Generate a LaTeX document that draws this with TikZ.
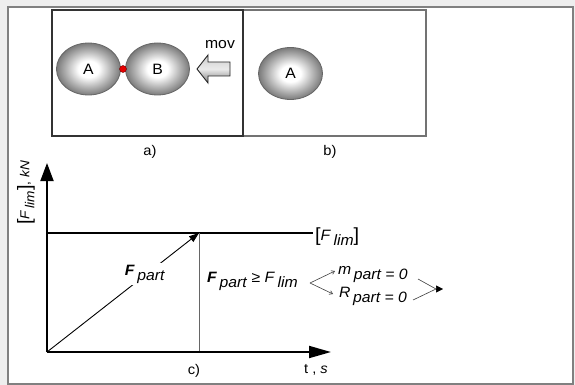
\documentclass[tikz,border=0pt]{standalone}
\usepackage{fontspec}
\setmainfont{Liberation Sans}[FakeStretch=1.05]
\usetikzlibrary{arrows.meta,shapes.geometric,shadings}
\pgfdeclareradialshading{ball}{\pgfpoint{0bp}{0bp}}{color(0bp)=(white); color(8bp)=(white); color(17bp)=(black!28); color(25bp)=(black!52); color(50bp)=(black!52)}
\definecolor{bgc}{HTML}{EEEEEE}
\newcommand{\sbx}[1]{\,\raisebox{-5pt}{\textit{#1}}}
\newcommand{\bigbr}[1]{{\fontsize{19}{19}\selectfont\raisebox{-1.5pt}{#1}}}
\begin{document}
\begin{tikzpicture}[x=1pt,y=-1pt,font=\fontsize{15}{17}\selectfont,
  ballnode/.style={ellipse, draw=black!60, line width=0.8pt, shading=ball, minimum width=64pt, minimum height=52pt, inner sep=0pt},
  lbl/.style={font=\fontsize{14}{16}\selectfont, inner sep=0pt},
  axisline/.style={line width=1.8pt, black},
  thinln/.style={line width=0.6pt, black!75},
  txt/.style={inner sep=0pt}]
\useasboundingbox (0,0) rectangle (575,385);
\fill[bgc] (0,0) rectangle (575,385);
\draw[line width=2.5pt, black!50, fill=white] (8,7) rectangle (573,384);
% panels
\draw[line width=1.2pt, black!55] (243,10) rectangle (426,136);
\draw[line width=1.5pt, black!80] (52,10) rectangle (243,136);
% balls
\node[ballnode] (A) at (88.5,69) {A};
\node[ballnode] (B) at (157.5,69) {B};
\node[ballnode] (A2) at (290.5,73.5) {A};
\node[circle, fill=red!90!black, draw=red!40!black, line width=0.4pt, minimum size=7pt, inner sep=0pt] (dot) at (123,69) {};
% mov arrow
\draw[line width=0.9pt, black!85, top color=black!20, bottom color=black!50, middle color=black!8]
  (230,62) -- (208,62) -- (208,55) -- (197,69) -- (208,83) -- (208,76) -- (230,76) -- cycle;
\node[txt] (mov) at (220,45) {mov};
\node[lbl] (la) at (150,152) {a)};
\node[lbl] (lb) at (330,152) {b)};
% graph
\coordinate (O) at (47,352);
\coordinate (Yt) at (47,163);
\coordinate (Xt) at (331,352);
\coordinate (H0) at (47,233);
\coordinate (H1) at (313,233);
\coordinate (P) at (199,233);
\coordinate (Pb) at (199,352);
\draw[line width=1.2pt] (H0) -- (H1);
\draw[line width=1pt, black!60] (P) -- (Pb);
\draw[line width=0.9pt, -{Triangle[length=10pt,width=7pt]}] (O) -- (P);
\draw[axisline, -{Triangle[length=18pt,width=13pt]}] (O) -- (Yt);
\draw[axisline, -{Triangle[length=22pt,width=12pt]}] (O) -- (Xt);
\node[txt, fill=white, inner sep=2pt] (fp) at (145,274) {\textbf{\textit{F}}\sbx{part}};
\node[txt, anchor=base west] (flim) at (315,240) {\bigbr{[}\textit{F}\sbx{lim}\bigbr{]}};
\node[txt, rotate=90, font=\fontsize{13}{15}\selectfont] (ylab) at (26,193) {\bigbr{[}\textit{F}\sbx{lim}\bigbr{]}, \textit{kN}};
\node[lbl] (lc) at (194,371) {c)};
\node[lbl] (lt) at (316,370) {t , \textit{s}};
% condition
\node[txt, anchor=base west] (cond) at (207,282) {\textbf{\textit{F}}\sbx{part} ≥ \textit{F}\sbx{lim}};
\node[txt, anchor=base west] (mp) at (338,274) {\textit{m}\sbx{part = 0}};
\node[txt, anchor=base west] (rp) at (339,297) {\textit{R}\sbx{part = 0}};
\coordinate (br) at (310,283);
\coordinate (mu) at (335,271);
\coordinate (rl) at (333,294);
\coordinate (me) at (418,279);
\coordinate (re) at (413,300);
\coordinate (T0) at (436,289);
\coordinate (T) at (443,289);
\draw[thinln, -{Straight Barb[length=3pt,width=4pt]}] (br) -- (mu);
\draw[thinln, -{Straight Barb[length=3pt,width=4pt]}] (br) -- (rl);
\draw[thinln] (me) -- (T0) -- (re);
\draw[line width=0.5pt, -{Triangle[length=7pt,width=7pt]}] (T0) -- (T);
\end{tikzpicture}
\end{document}
